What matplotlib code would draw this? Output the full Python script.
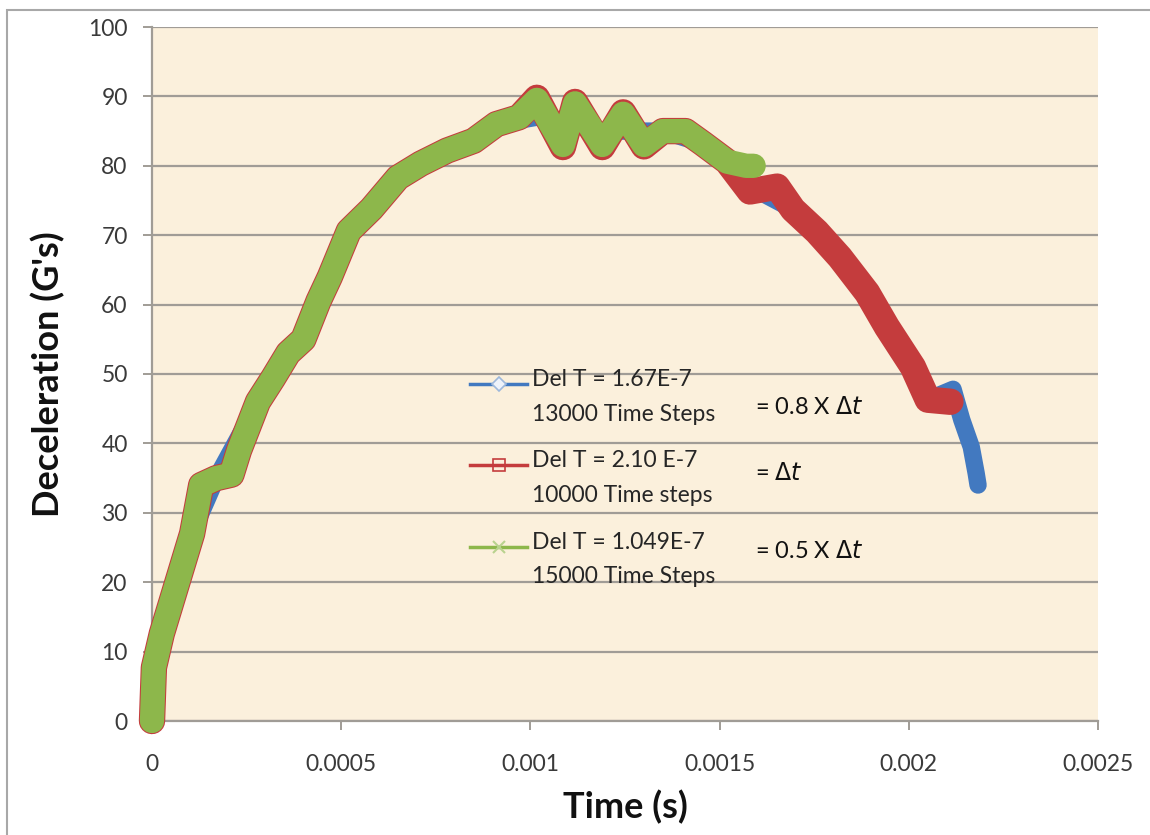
import numpy as np
import matplotlib.pyplot as plt
from matplotlib.lines import Line2D
from matplotlib.patches import Rectangle

plt.rcParams['font.family'] = ['Lato', 'DejaVu Sans']
plt.rcParams['mathtext.fontset'] = 'dejavusans'

# values (time in s, deceleration in G's)
green_t = [0, 5e-6, 2.6e-5, 6.6e-5, 1.06e-4, 1.3e-4, 1.7e-4, 2.1e-4, 2.3e-4,
           2.8e-4, 3.2e-4, 3.6e-4, 4.0e-4, 4.4e-4, 4.7e-4, 5.2e-4, 5.8e-4,
           6.5e-4, 7.1e-4, 7.8e-4, 8.5e-4, 9.1e-4, 9.7e-4, 1.017e-3, 1.086e-3,
           1.118e-3, 1.19e-3, 1.245e-3, 1.30e-3, 1.35e-3, 1.41e-3, 1.456e-3,
           1.52e-3, 1.57e-3, 1.59e-3]
green_g = [0, 7.7, 12.6, 19.8, 27, 34, 35, 35.5, 39,
           46, 49.4, 53, 55, 60.5, 64, 70.6, 73.8,
           78.3, 80.3, 82.2, 83.6, 86, 87, 89.5, 83,
           89, 83, 87.5, 83, 85, 85, 83.2,
           80.6, 80, 80]

red_t = [0, 5e-6, 2.6e-5, 6.6e-5, 1.06e-4, 1.3e-4, 1.7e-4, 2.1e-4, 2.3e-4,
         2.8e-4, 3.2e-4, 3.6e-4, 4.0e-4, 4.4e-4, 4.7e-4, 5.2e-4, 5.8e-4,
         6.5e-4, 7.1e-4, 7.8e-4, 8.5e-4, 9.1e-4, 9.7e-4, 1.017e-3, 1.086e-3,
         1.118e-3, 1.19e-3, 1.245e-3, 1.30e-3, 1.35e-3, 1.41e-3, 1.456e-3,
         1.52e-3, 1.58e-3, 1.652e-3, 1.694e-3, 1.757e-3, 1.818e-3, 1.89e-3,
         1.942e-3, 2.011e-3, 2.05e-3, 2.11e-3]
red_g = [0, 7.7, 12.6, 19.8, 27, 34, 35, 35.5, 39,
         46, 49.4, 53, 55, 60.5, 64, 70.6, 73.8,
         78.3, 80.3, 82.2, 83.6, 86, 87, 89.8, 82.7,
         89.2, 82.7, 87.7, 82.8, 85, 85, 83.2,
         80.6, 76.3, 77, 73.7, 70.5, 66.8, 61.7,
         56.8, 51, 46.3, 46]

blue_t = [0, 2.6e-5, 1.06e-4, 1.7e-4, 2.8e-4, 4.0e-4, 5.2e-4, 6.5e-4, 7.8e-4,
          9.1e-4, 1.017e-3, 1.19e-3, 1.35e-3, 1.456e-3, 1.58e-3, 1.694e-3,
          1.818e-3, 1.942e-3, 2.011e-3, 2.06e-3, 2.117e-3, 2.14e-3, 2.165e-3,
          2.178e-3, 2.183e-3]
blue_g = [0, 12.6, 27, 35, 46, 55, 70.6, 78.3, 82.2,
          86, 87, 85, 85, 83.2, 77, 73.7,
          66.8, 56.8, 51, 46.5, 47.8, 43.4, 39.5,
          35.7, 34]

labels = ["Del T = 1.67E-7\n13000 Time Steps",
          "Del T = 2.10 E-7\n10000 Time steps",
          "Del T = 1.049E-7\n15000 Time Steps"]
notes = ["= 0.8 X $\\mathit{\\Delta t}$", "= $\\Delta t$", "= 0.5 X $\\mathit{\\Delta t}$"]

x_ticks = [0, 0.0005, 0.001, 0.0015, 0.002, 0.0025]
x_labels = ["0", "0.0005", "0.001", "0.0015", "0.002", "0.0025"]
y_ticks = list(range(0, 101, 10))

BLUE = '#4279C0'
RED = '#C43C3D'
GREEN = '#8DB74B'
GRAY = '#A09C96'

fig = plt.figure(figsize=(11.5, 8.35), dpi=100)
ax = fig.add_axes([152 / 1150, 1 - 721 / 835, 946 / 1150, 694 / 835])
ax.set_facecolor('#FBF0DC')

# outer chart border (cut by the image edges)
fig.patches.append(Rectangle((7 / 1150, -0.1), 2, 1 - 10 / 835 + 0.1,
                             transform=fig.transFigure, fill=False,
                             edgecolor='#A8A8A8', lw=1.5))

kw = dict(solid_joinstyle='round', solid_capstyle='round', clip_on=False)
ax.plot(blue_t, blue_g, color=BLUE, lw=12.5, zorder=3, **kw)
ax.plot(red_t, red_g, color=RED, lw=19, zorder=4, **kw)
ax.plot(green_t, green_g, color=GREEN, lw=17.5, zorder=5, **kw)

ax.set_xlim(0, 0.0025)
ax.set_ylim(0, 100)
ax.set_xticks(x_ticks)
ax.set_xticklabels(x_labels)
ax.set_yticks(y_ticks)
ax.grid(axis='y', color=GRAY, lw=1.6)
ax.set_axisbelow(True)
for s in ['top', 'right']:
    ax.spines[s].set_visible(False)
for s in ['left', 'bottom']:
    ax.spines[s].set_color(GRAY)
    ax.spines[s].set_linewidth(1.6)
ax.tick_params(length=6.5, width=1.4, color=GRAY, labelsize=16.5, labelcolor='#3A3A3A')
ax.tick_params(axis='y', pad=11)
ax.tick_params(axis='x', pad=17)

ax.set_xlabel("Time (s)", fontsize=26, fontweight='bold', color='#111111')
ax.set_ylabel("Deceleration (G's)", fontsize=26, fontweight='bold', color='#111111')
ax.xaxis.set_label_coords(0.5, -0.099)
ax.yaxis.set_label_coords(-0.092, 0.5)

handles = [
    Line2D([], [], color=BLUE, lw=2.5, marker='D', ms=7, mfc='#EEF3FA', mec='#9DB8DB', mew=1.2),
    Line2D([], [], color=RED, lw=2.5, marker='s', ms=9, mfc='none', mec=RED, mew=1.2),
    Line2D([], [], color=GREEN, lw=2.5, marker='x', ms=9, mec='#B9D28E', mew=1.5),
]
leg = ax.legend(handles, labels, loc='upper left', bbox_to_anchor=(0.336, 0.507),
                frameon=False, fontsize=16.5, handlelength=2.5, handletextpad=0.2,
                labelspacing=1.12, borderpad=0, borderaxespad=0)
for t in leg.get_texts():
    t.set_linespacing(1.8)
    t.set_color('#262626')
# put the handle next to the first line of each label
for ln in leg.findobj(Line2D):
    ln.set_ydata(np.asarray(ln.get_ydata()) + 9.5)

note_y = [0.452, 0.357, 0.245]
for txt, yy in zip(notes, note_y):
    ax.text(0.637, yy, txt, transform=ax.transAxes, fontsize=17, va='center',
            color='#111111')

fig.savefig('out.png', dpi=100)
